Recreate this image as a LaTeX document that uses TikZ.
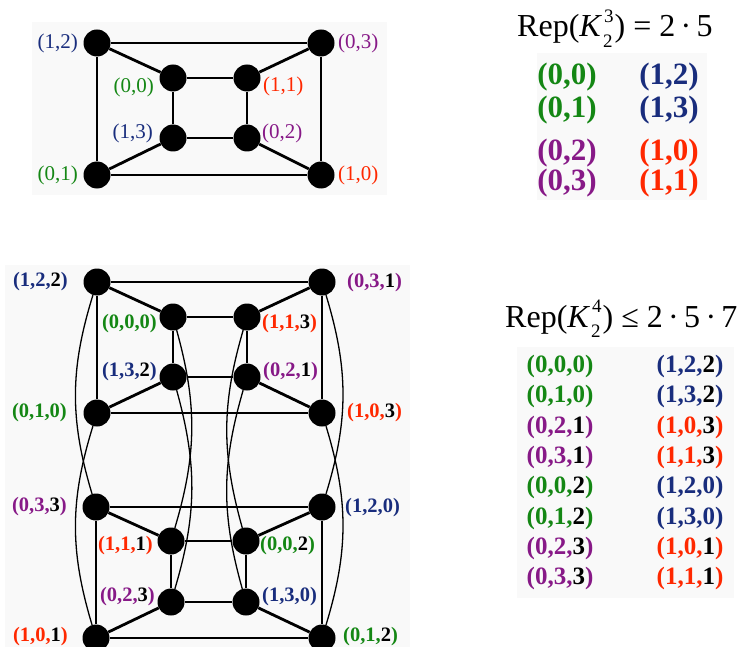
\documentclass[tikz,border=0pt]{standalone}
\usepackage{fontspec}
\setmainfont{Liberation Serif}
\definecolor{cg}{RGB}{20,135,20}
\definecolor{cb}{RGB}{25,45,125}
\definecolor{cp}{RGB}{135,25,135}
\definecolor{cr}{RGB}{255,40,0}
\definecolor{bgc}{RGB}{249,249,249}
\newcommand\tri[4]{\textcolor{#1}{(#2,#3,}\ifnum#4=0 \textcolor{#1}{0}\else#4\fi\textcolor{#1}{)}}
\newcommand\duo[3]{\textcolor{#1}{(#2,#3)}}
\newcommand\Kss[2]{\textit{K}\kern1pt\makebox[0pt][l]{\kern1pt\raisebox{0.45em}{\fontsize{19}{19}\selectfont #1}}\raisebox{-0.34em}{\fontsize{19}{19}\selectfont #2}\kern2pt}
\tikzset{
  v/.style={circle, fill=black, inner sep=0pt, minimum size=27pt},
  e/.style={line width=2.8pt},
  cv/.style={line width=1.3pt},
  lab/.style={inner sep=0pt, font=\fontsize{21}{21}\selectfont},
  blab/.style={inner sep=0pt, font=\fontsize{20.5}{20.5}\selectfont\bfseries},
  tA/.style={inner sep=0pt, font=\fontsize{31}{31}\selectfont\bfseries},
  tB/.style={inner sep=0pt, font=\fontsize{25}{25}\selectfont\bfseries},
  ttl/.style={inner sep=0pt, anchor=base west, font=\fontsize{32}{32}\selectfont},
  bg/.style={fill=bgc, draw=none}
}
\begin{document}
\begin{tikzpicture}[x=1pt,y=1pt]
\useasboundingbox (0,0) rectangle (746,-647);
\fill[white] (0,0) rectangle (746,-647);
% backgrounds
\fill[bg] (32,-22) rectangle (387,-195);
\fill[bg] (537,-53) rectangle (707,-200);
\fill[bg] (5,-265) rectangle (410,-647);
\fill[bg] (517,-347) rectangle (734,-598);

% ---------- top graph ----------
\node[v] (a12) at (97,-43) {};
\node[v] (a03) at (321,-43) {};
\node[v] (a00) at (173,-78) {};
\node[v] (a11) at (247,-78) {};
\node[v] (a13) at (173,-138) {};
\node[v] (a02) at (247,-138) {};
\node[v] (a01) at (97,-175) {};
\node[v] (a10) at (321,-175) {};
\draw[e] (a12) -- (a03) -- (a10) -- (a01) -- (a12);
\draw[e] (a00) -- (a11) -- (a02) -- (a13) -- (a00);
\draw[e] (a12) -- (a00);
\draw[e] (a03) -- (a11);
\draw[e] (a10) -- (a02);
\draw[e] (a01) -- (a13);
\node[lab, anchor=east] (la12) at (78,-43) {\duo{cb}{1}{2}};
\node[lab, anchor=west] (la03) at (338,-43) {\duo{cp}{0}{3}};
\node[lab, anchor=east] (la00) at (154,-87) {\duo{cg}{0}{0}};
\node[lab, anchor=west] (la11) at (263,-86) {\duo{cr}{1}{1}};
\node[lab, anchor=east] (la13) at (153,-133) {\duo{cb}{1}{3}};
\node[lab, anchor=west] (la02) at (262,-133) {\duo{cp}{0}{2}};
\node[lab, anchor=east] (la01) at (78,-175) {\duo{cg}{0}{1}};
\node[lab, anchor=west] (la10) at (338,-175) {\duo{cr}{1}{0}};

% ---------- top table ----------
\node[ttl] (t1) at (517,-37) {Rep(\Kss{3}{2}) = 2\,·\,5};
\node[tA] (r1a) at (567,-77) {\duo{cg}{0}{0}};
\node[tA] (r1b) at (669,-77) {\duo{cb}{1}{2}};
\node[tA] (r2a) at (567,-110) {\duo{cg}{0}{1}};
\node[tA] (r2b) at (669,-110) {\duo{cb}{1}{3}};
\node[tA] (r3a) at (567,-153) {\duo{cp}{0}{2}};
\node[tA] (r3b) at (669,-153) {\duo{cr}{1}{0}};
\node[tA] (r4a) at (567,-183) {\duo{cp}{0}{3}};
\node[tA] (r4b) at (669,-183) {\duo{cr}{1}{1}};

% ---------- bottom graph ----------
\node[v] (b122) at (97,-282) {};
\node[v] (b031) at (322,-282) {};
\node[v] (b000) at (173,-317) {};
\node[v] (b113) at (247,-317) {};
\node[v] (b132) at (173,-377) {};
\node[v] (b021) at (247,-377) {};
\node[v] (b010) at (97,-413) {};
\node[v] (b103) at (322,-413) {};
\node[v] (b033) at (96,-507) {};
\node[v] (b120) at (322,-507) {};
\node[v] (b111) at (171,-541) {};
\node[v] (b002) at (246,-541) {};
\node[v] (b023) at (171,-602) {};
\node[v] (b130) at (246,-602) {};
\node[v] (b101) at (96,-638) {};
\node[v] (b012) at (322,-638) {};
% upper copy
\draw[e] (b122) -- (b031) -- (b103) -- (b010) -- (b122);
\draw[e] (b000) -- (b113) -- (b021) -- (b132) -- (b000);
\draw[e] (b122) -- (b000);
\draw[e] (b031) -- (b113);
\draw[e] (b103) -- (b021);
\draw[e] (b010) -- (b132);
% lower copy
\draw[e] (b033) -- (b120) -- (b012) -- (b101) -- (b033);
\draw[e] (b111) -- (b002) -- (b130) -- (b023) -- (b111);
\draw[e] (b033) -- (b111);
\draw[e] (b120) -- (b002);
\draw[e] (b012) -- (b130);
\draw[e] (b101) -- (b023);
% connecting curves
\draw[cv] (b122) to[bend right=17] (b033);
\draw[cv] (b010) to[bend right=17] (b101);
\draw[cv] (b031) to[bend left=17] (b120);
\draw[cv] (b103) to[bend left=17] (b012);
\draw[cv] (b000) to[bend left=16] (b111);
\draw[cv] (b132) to[bend left=16] (b023);
\draw[cv] (b113) to[bend right=16] (b002);
\draw[cv] (b021) to[bend right=16] (b130);
% labels
\node[blab, anchor=east] (lb122) at (68,-282) {\tri{cb}{1}{2}{2}};
\node[blab, anchor=west] (lb031) at (347,-283) {\tri{cp}{0}{3}{1}};
\node[blab, anchor=east] (lb000) at (157,-324) {\tri{cg}{0}{0}{0}};
\node[blab, anchor=west] (lb113) at (262,-324) {\tri{cr}{1}{1}{3}};
\node[blab, anchor=east] (lb132) at (157,-372) {\tri{cb}{1}{3}{2}};
\node[blab, anchor=west] (lb021) at (263,-372) {\tri{cp}{0}{2}{1}};
\node[blab, anchor=east] (lb010) at (67,-413) {\tri{cg}{0}{1}{0}};
\node[blab, anchor=west] (lb103) at (347,-413) {\tri{cr}{1}{0}{3}};
\node[blab, anchor=east] (lb033) at (67,-507) {\tri{cp}{0}{3}{3}};
\node[blab, anchor=west] (lb120) at (345,-508) {\tri{cb}{1}{2}{0}};
\node[blab, anchor=east] (lb111) at (153,-546) {\tri{cr}{1}{1}{1}};
\node[blab, anchor=west] (lb002) at (260,-546) {\tri{cg}{0}{0}{2}};
\node[blab, anchor=east] (lb023) at (155,-597) {\tri{cp}{0}{2}{3}};
\node[blab, anchor=west] (lb130) at (262,-597) {\tri{cb}{1}{3}{0}};
\node[blab, anchor=east] (lb101) at (68,-637) {\tri{cr}{1}{0}{1}};
\node[blab, anchor=west] (lb012) at (343,-637) {\tri{cg}{0}{1}{2}};

% ---------- bottom table ----------
\node[ttl] (t2) at (505,-327) {Rep(\Kss{4}{2}) ≤ 2\,·\,5\,·\,7};
\node[tB] (s1a) at (560,-366) {\tri{cg}{0}{0}{0}};
\node[tB] (s1b) at (690,-366) {\tri{cb}{1}{2}{2}};
\node[tB] (s2a) at (560,-396) {\tri{cg}{0}{1}{0}};
\node[tB] (s2b) at (690,-396) {\tri{cb}{1}{3}{2}};
\node[tB] (s3a) at (560,-427) {\tri{cp}{0}{2}{1}};
\node[tB] (s3b) at (690,-427) {\tri{cr}{1}{0}{3}};
\node[tB] (s4a) at (560,-457) {\tri{cp}{0}{3}{1}};
\node[tB] (s4b) at (690,-457) {\tri{cr}{1}{1}{3}};
\node[tB] (s5a) at (560,-487) {\tri{cg}{0}{0}{2}};
\node[tB] (s5b) at (690,-487) {\tri{cb}{1}{2}{0}};
\node[tB] (s6a) at (560,-518) {\tri{cg}{0}{1}{2}};
\node[tB] (s6b) at (690,-518) {\tri{cb}{1}{3}{0}};
\node[tB] (s7a) at (560,-548) {\tri{cp}{0}{2}{3}};
\node[tB] (s7b) at (690,-548) {\tri{cr}{1}{0}{1}};
\node[tB] (s8a) at (560,-578) {\tri{cp}{0}{3}{3}};
\node[tB] (s8b) at (690,-578) {\tri{cr}{1}{1}{1}};
\end{tikzpicture}
\end{document}
